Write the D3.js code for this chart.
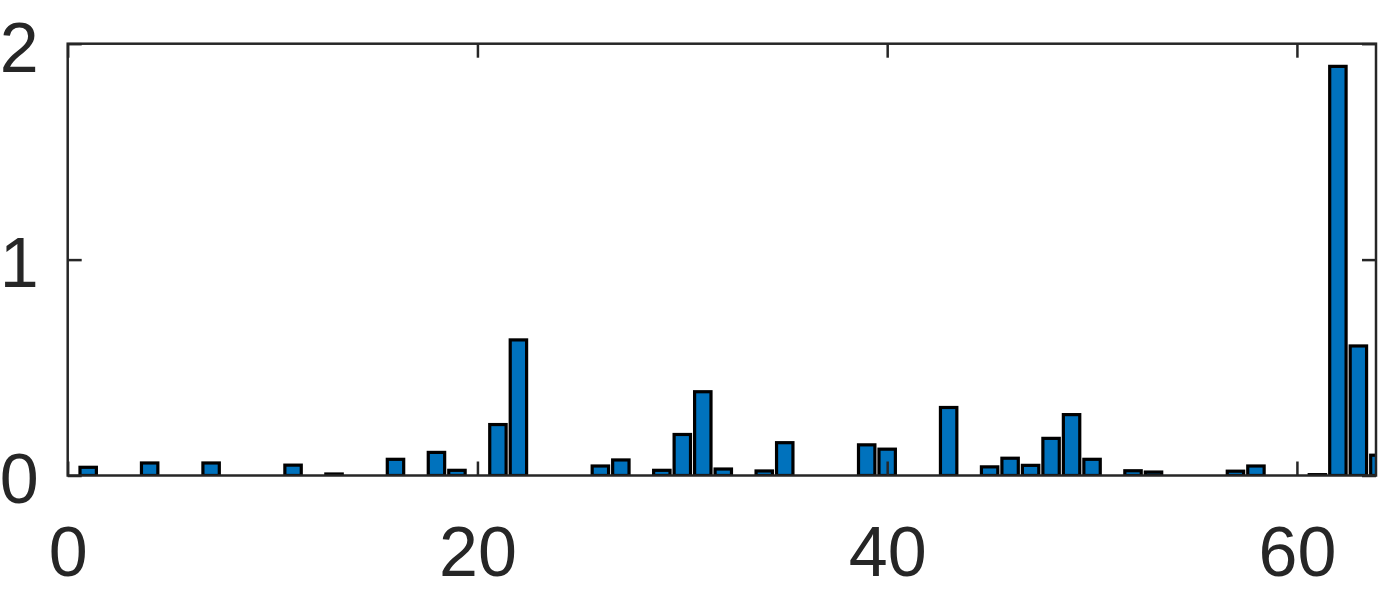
<!DOCTYPE html>
<html>
<head>
<meta charset="utf-8">
<script src="https://cdn.jsdelivr.net/npm/d3@7"></script>
<style>
  html, body { margin: 0; padding: 0; background: #fff; }
  svg { display: block; }
  .axis text { font-family: "Liberation Sans", Arial, sans-serif; font-size: 70px; fill: #262626; }
  .axis line { stroke: #262626; stroke-width: 2.5; }
  .axis .domain { display: none; }
</style>
</head>
<body>
<div id="chart"></div>
<script>
// bar positions and heights
var binIndex = [1, 4, 7, 11, 13, 16, 18, 19, 21, 22, 26, 27, 29, 30, 31, 32, 34, 35,
                39, 40, 43, 45, 46, 47, 48, 49, 50, 52, 53, 57, 58, 61, 62, 63, 64];
var binValue = [0.038, 0.058, 0.058, 0.048, 0.007, 0.075, 0.107, 0.024, 0.236, 0.628,
                0.044, 0.072, 0.024, 0.19, 0.388, 0.03, 0.021, 0.152,
                0.142, 0.122, 0.315, 0.04, 0.08, 0.047, 0.172, 0.282, 0.075,
                0.022, 0.016, 0.02, 0.044, 0.004, 1.895, 0.6, 0.094];
var xTicks = [0, 20, 40, 60];
var yTicks = [0, 1, 2];

var W = 1378, H = 591;
// plot box edges (window.top is taken, so prefixed names)
var pLeft = 67.7, pRight = 1376, pTop = 43.7, pBottom = 475.5;
var barWidth = 0.8;

var x = d3.scaleLinear().domain([0, 63.86]).range([pLeft, pRight]);
var y = d3.scaleLinear().domain([0, 2]).range([pBottom, pTop]);

var svg = d3.select("#chart").append("svg")
    .attr("width", W)
    .attr("height", H);

svg.append("clipPath").attr("id", "plotclip")
  .append("rect")
    .attr("x", pLeft)
    .attr("y", pTop)
    .attr("width", pRight - pLeft)
    .attr("height", pBottom - pTop);

var data = binIndex.map(function(d, i) { return { k: d, v: binValue[i] }; });

// bars
svg.append("g")
    .attr("clip-path", "url(#plotclip)")
  .selectAll("rect")
  .data(data)
  .enter().append("rect")
    .attr("x", function(d) { return x(d.k - barWidth / 2); })
    .attr("width", function(d) { return x(d.k + barWidth / 2) - x(d.k - barWidth / 2); })
    .attr("y", function(d) { return y(d.v); })
    .attr("height", function(d) { return y(0) - y(d.v); })
    .style("fill", "#0072BD")
    .style("stroke", "#000")
    .style("stroke-width", 3.2);

// box
svg.append("rect")
    .attr("x", pLeft)
    .attr("y", pTop)
    .attr("width", pRight - pLeft)
    .attr("height", pBottom - pTop)
    .style("fill", "none")
    .style("stroke", "#262626")
    .style("stroke-width", 2.5);

// axes, ticks pointing inward
svg.append("g")
    .attr("class", "axis")
    .attr("transform", "translate(0," + pBottom + ")")
    .call(d3.axisBottom(x).tickValues(xTicks).tickSize(-14).tickSizeOuter(0)
        .tickPadding(51).tickFormat(d3.format("d")));

svg.append("g")
    .attr("class", "axis")
    .attr("transform", "translate(0," + pTop + ")")
    .call(d3.axisTop(x).tickValues(xTicks).tickSize(-14).tickSizeOuter(0).tickFormat(""));

svg.append("g")
    .attr("class", "axis")
    .attr("transform", "translate(" + pLeft + ",0)")
    .call(d3.axisLeft(y).tickValues(yTicks).tickSize(-14).tickSizeOuter(0)
        .tickPadding(29).tickFormat(d3.format("d")))
  .selectAll("text")
    .attr("dy", "0.39em");

svg.append("g")
    .attr("class", "axis")
    .attr("transform", "translate(" + pRight + ",0)")
    .call(d3.axisRight(y).tickValues(yTicks).tickSize(-14).tickSizeOuter(0).tickFormat(""));
</script>
</body>
</html>
